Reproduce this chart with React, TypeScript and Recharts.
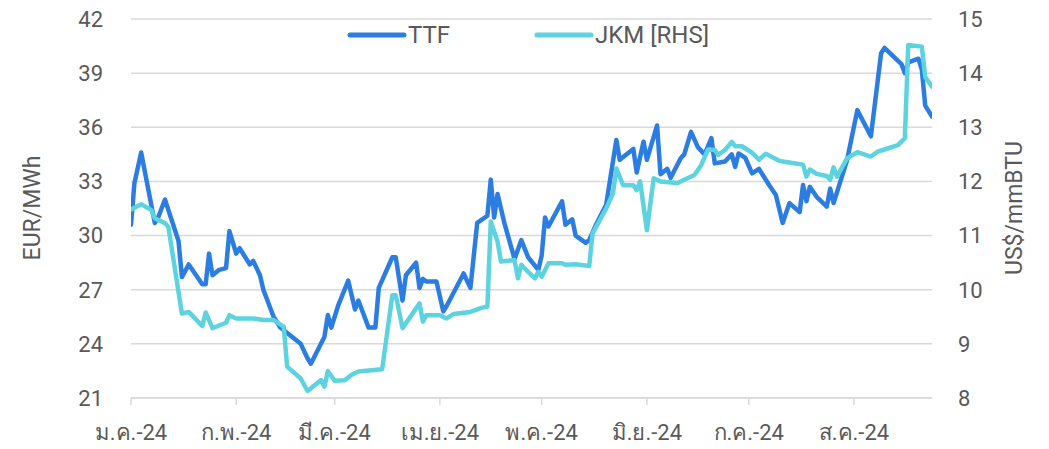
import { LineChart, Line, XAxis, YAxis, CartesianGrid, Legend } from 'recharts'

// day index counted from 1 Jan 2024
const monthTicks = [0, 31, 60, 91, 121, 152, 182, 213]
const monthLabels = ['ม.ค.-24', 'ก.พ.-24', 'มี.ค.-24', 'เม.ย.-24', 'พ.ค.-24', 'มิ.ย.-24', 'ก.ค.-24', 'ส.ค.-24']

const leftTicks = [21, 24, 27, 30, 33, 36, 39, 42]
const rightTicks = [8, 9, 10, 11, 12, 13, 14, 15]

const ttfDays = [
  0, 1, 3, 7, 8, 10, 14, 15, 17, 21, 22, 23, 24, 26, 28, 29, 31, 32, 35, 36, 38, 39, 42, 44, 50, 52, 53, 57, 58, 59,
  61, 64, 66, 67, 70, 72, 73, 77, 78, 80, 81, 84, 85, 86, 87, 90, 92, 93, 98, 100, 102, 105, 106, 107, 108, 110, 113,
  115, 117, 120, 121, 122, 123, 127, 128, 130, 131, 134, 135, 137, 140, 143, 144, 148, 149, 151, 152, 155, 156, 158,
  159, 162, 163, 165, 167, 169, 171, 172, 175, 177, 178, 179, 181, 183, 185, 188, 190, 192, 194, 197, 198, 199, 200,
  202, 205, 206, 207, 211, 214, 218, 221, 222, 227, 228, 229, 232, 233, 234, 236,
]
const ttfValues = [
  30.6, 32.9, 34.6, 30.7, 31.0, 32.0, 29.7, 27.7, 28.4, 27.3, 27.3, 29.0, 27.8, 28.1, 28.2, 30.25, 29.0, 29.3, 28.4,
  28.6, 27.8, 27.0, 25.5, 24.9, 24.0, 23.2, 22.9, 24.4, 25.6, 24.9, 26.1, 27.5, 25.9, 26.4, 24.9, 24.9, 27.1, 28.8,
  28.8, 26.4, 27.8, 28.5, 27.1, 27.6, 27.45, 27.45, 25.8, 26.1, 27.9, 27.1, 30.7, 31.1, 33.1, 31.0, 32.3, 30.7, 28.7,
  29.75, 28.8, 28.1, 28.9, 31.0, 30.5, 31.9, 30.6, 30.9, 30.0, 29.6, 29.75, 30.6, 31.7, 35.3, 34.2, 34.8, 33.5, 35.2,
  34.2, 36.1, 33.4, 33.7, 33.2, 34.3, 34.5, 35.75, 34.9, 34.5, 35.4, 34.0, 34.1, 34.5, 33.8, 34.55, 34.3, 33.45, 33.7,
  32.8, 32.25, 30.7, 31.8, 31.3, 32.8, 31.9, 32.7, 32.15, 31.6, 32.6, 31.8, 34.2, 36.95, 35.5, 40.1, 40.4, 39.5, 39.0,
  39.6, 39.8, 39.2, 37.2, 36.6,
]

const jkmDays = [
  0, 3, 6, 7, 10, 11, 15, 17, 21, 22, 24, 28, 29, 31, 36, 39, 42, 45, 46, 50, 52, 56, 57, 58, 60, 63, 65, 67, 74, 77,
  78, 80, 82, 85, 86, 87, 91, 93, 95, 100, 103, 105, 106, 108, 109, 113, 114, 115, 117, 119, 120, 121, 123, 127, 128,
  131, 135, 136, 140, 142, 143, 145, 148, 149, 150, 152, 154, 156, 161, 163, 166, 168, 170, 172, 173, 175, 177, 178,
  180, 183, 185, 187, 191, 193, 198, 199, 200, 202, 205, 206, 207, 208, 211, 214, 218, 220, 222, 226, 228, 229, 233,
  234, 236,
]
const jkmValues = [
  11.48, 11.58, 11.47, 11.32, 11.23, 11.16, 9.56, 9.59, 9.33, 9.58, 9.29, 9.39, 9.53, 9.47, 9.47, 9.44, 9.44, 9.32,
  8.58, 8.36, 8.13, 8.33, 8.21, 8.5, 8.32, 8.33, 8.43, 8.49, 8.53, 9.9, 9.9, 9.29, 9.47, 9.75, 9.41, 9.53, 9.53, 9.47,
  9.55, 9.59, 9.66, 9.69, 11.26, 10.89, 10.52, 10.55, 10.21, 10.46, 10.33, 10.21, 10.33, 10.24, 10.49, 10.49, 10.46,
  10.47, 10.44, 11.04, 11.5, 11.78, 12.24, 11.93, 11.93, 11.84, 12.0, 11.1, 12.06, 12.0, 11.97, 12.03, 12.12, 12.3,
  12.59, 12.58, 12.49, 12.58, 12.73, 12.65, 12.65, 12.53, 12.4, 12.51, 12.38, 12.36, 12.31, 12.09, 12.22, 12.14, 12.1,
  12.03, 12.26, 12.09, 12.43, 12.54, 12.46, 12.55, 12.59, 12.67, 12.8, 14.52, 14.49, 13.93, 13.75,
]

const ttfData = ttfDays.map((day, i) => ({ day, ttf: ttfValues[i] }))
const jkmData = jkmDays.map((day, i) => ({ day, jkm: jkmValues[i] }))

const TTF_COLOR = '#2b7de1'
const JKM_COLOR = '#5dd3e0'
const TEXT_COLOR = '#595959'
const GRID_COLOR = '#d9d9d9'
const FONT = 'Roboto, "Noto Sans", sans-serif'

const legendItems = [
  { name: 'TTF', color: TTF_COLOR },
  { name: 'JKM [RHS]', color: JKM_COLOR },
]

const LegendContent = () => (
  <div style={{ display: 'flex', fontFamily: FONT, fontSize: 24, color: TEXT_COLOR, lineHeight: '28px' }}>
    {legendItems.map((item) => (
      <div key={item.name} style={{ display: 'flex', alignItems: 'center', width: 187 }}>
        <svg width={61} height={10}>
          <line x1={3} y1={5} x2={57} y2={5} stroke={item.color} strokeWidth={5} strokeLinecap="round" />
        </svg>
        <span>{item.name}</span>
      </div>
    ))}
  </div>
)

const AxisTitle = ({ x, y, text }: { x: number; y: number; text: string }) => (
  <text
    x={x}
    y={y}
    transform={`rotate(-90 ${x} ${y})`}
    textAnchor="middle"
    dominantBaseline="central"
    fill={TEXT_COLOR}
    fontSize={23}
    fontFamily={FONT}
  >
    {text}
  </text>
)

export default function App() {
  return (
    <div style={{ position: 'absolute', left: 0, top: 0, background: '#fff' }}>
      <LineChart width={1049} height={449} margin={{ top: 19, right: 0, bottom: 0, left: 0 }}>
        <CartesianGrid vertical={false} stroke={GRID_COLOR} strokeWidth={1.5} yAxisId="left" />
        <XAxis
          type="number"
          dataKey="day"
          domain={[0, 236]}
          ticks={monthTicks}
          tickFormatter={(v) => monthLabels[monthTicks.indexOf(v)]}
          allowDataOverflow
          height={51}
          stroke={GRID_COLOR}
          strokeWidth={1.5}
          tickSize={7}
          tickMargin={19}
          tick={{ fill: TEXT_COLOR, fontSize: 22, fontFamily: FONT }}
        />
        <YAxis
          yAxisId="left"
          orientation="left"
          domain={[21, 42]}
          ticks={leftTicks}
          width={131}
          axisLine={false}
          tickLine={false}
          tickSize={0}
          tickMargin={28}
          tick={{ fill: TEXT_COLOR, fontSize: 22, fontFamily: FONT }}
          label={{ content: () => <AxisTitle x={32} y={208} text="EUR/MWh" /> }}
        />
        <YAxis
          yAxisId="right"
          orientation="right"
          domain={[8, 15]}
          ticks={rightTicks}
          width={117}
          axisLine={false}
          tickLine={false}
          tickSize={0}
          tickMargin={26}
          tick={{ fill: TEXT_COLOR, fontSize: 22, fontFamily: FONT }}
          label={{ content: () => <AxisTitle x={1014} y={208} text="US$/mmBTU" /> }}
        />
        <Legend
          verticalAlign="middle"
          align="center"
          content={<LegendContent />}
          wrapperStyle={{ position: 'absolute', top: 21, left: 347, width: 420 }}
        />
        <Line
          yAxisId="left"
          data={ttfData}
          dataKey="ttf"
          name="TTF"
          type="linear"
          stroke={TTF_COLOR}
          strokeWidth={4.5}
          strokeLinejoin="round"
          strokeLinecap="round"
          dot={false}
          isAnimationActive={false}
        />
        <Line
          yAxisId="right"
          data={jkmData}
          dataKey="jkm"
          name="JKM [RHS]"
          type="linear"
          stroke={JKM_COLOR}
          strokeWidth={4.5}
          strokeLinejoin="round"
          strokeLinecap="round"
          dot={false}
          isAnimationActive={false}
        />
      </LineChart>
    </div>
  )
}
